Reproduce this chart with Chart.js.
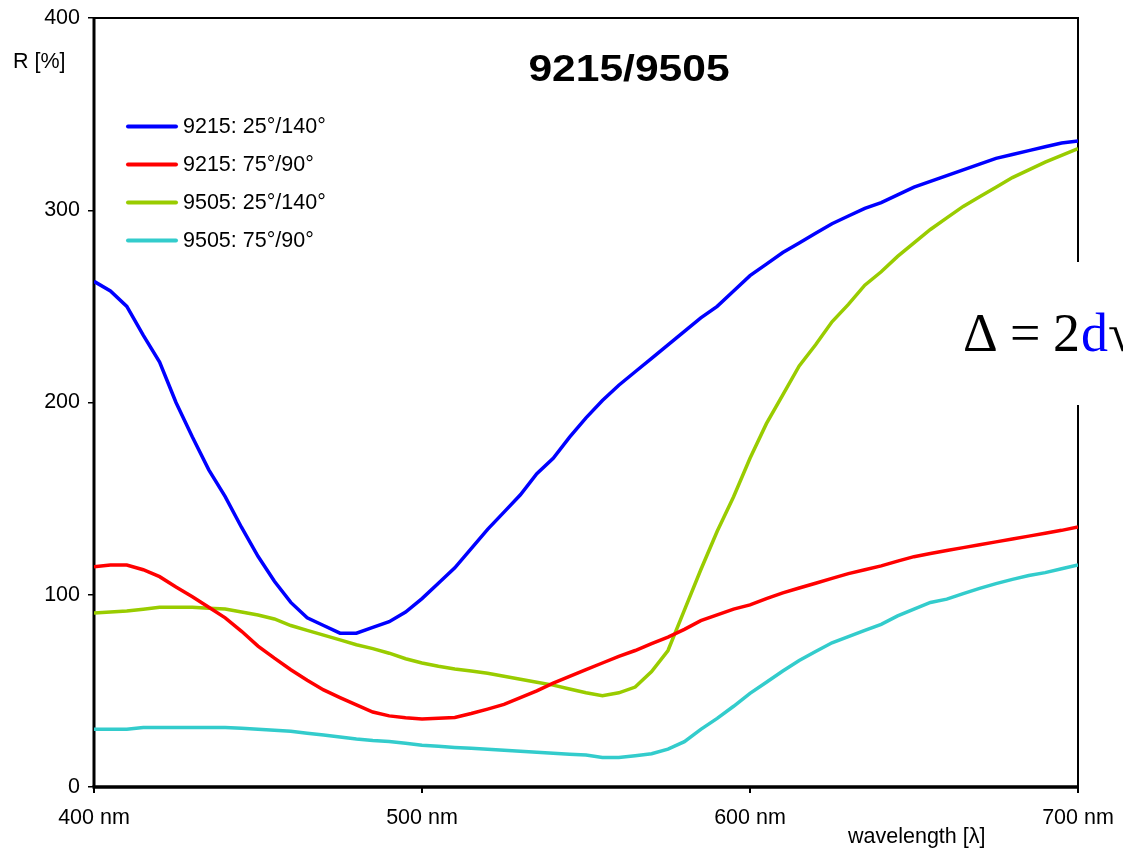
<!DOCTYPE html>
<html>
<head>
<meta charset="utf-8">
<script src="https://cdn.jsdelivr.net/npm/chart.js@4.4.1/dist/chart.umd.min.js"></script>
<style>
  html, body { margin: 0; padding: 0; background: #fff; }
  #chart { display: block; }
</style>
</head>
<body>
<canvas id="chart" width="1123" height="849"></canvas>
<script>
// wavelength grid (nm)
const wavelengths = [
    400, 405, 410, 415, 420, 425, 430, 435, 440, 445,
    450, 455, 460, 465, 470, 475, 480, 485, 490, 495,
    500, 505, 510, 515, 520, 525, 530, 535, 540, 545,
    550, 555, 560, 565, 570, 575, 580, 585, 590, 595,
    600, 605, 610, 615, 620, 625, 630, 635, 640, 645,
    650, 655, 660, 665, 670, 675, 680, 685, 690, 695,
    700
];

// reflectance R [%]
const r9215_25_140 = [
    263, 258, 250, 235, 221, 200, 182, 165, 151, 135,
    120, 107, 96, 88, 84, 80, 80, 83, 86, 91,
    98, 106, 114, 124, 134, 143, 152, 163, 171, 182,
    192, 201, 209, 216, 223, 230, 237, 244, 250, 258,
    266, 272, 278, 283, 288, 293, 297, 301, 304, 308,
    312, 315, 318, 321, 324, 327, 329, 331, 333, 335,
    336
];
const r9215_75_90 = [
    114.6, 115.5, 115.5, 113, 109.4, 104, 99, 93.5, 88, 81,
    73.3, 67, 61, 55.5, 50.5, 46.5, 42.7, 39, 37, 36,
    35.4, 35.8, 36.2, 38.2, 40.5, 43, 46.5, 50, 54, 57.5,
    61, 64.5, 68, 71, 74.6, 78, 82, 86.5, 89.5, 92.5,
    94.7, 98, 101, 103.5, 106, 108.5, 111, 113, 115, 117.5,
    119.8, 121.5, 123, 124.5, 126, 127.5, 129, 130.5, 132, 133.5,
    135.2
];
const r9505_25_140 = [
    90.5, 91, 91.6, 92.5, 93.5, 93.5, 93.5, 93, 92.6, 91,
    89.5, 87.4, 84, 81.5, 79, 76.5, 74, 72, 69.6, 66.7,
    64.5, 62.8, 61.4, 60.3, 59.2, 57.6, 56, 54.5, 53, 51,
    49, 47.5, 49, 52, 60, 71, 92, 113, 133, 151,
    171, 189, 204, 219, 230, 242, 251, 261, 268, 276,
    283, 290, 296, 302, 307, 312, 317, 321, 325, 328.5,
    332
];
const r9505_75_90 = [
    30, 30, 30, 31, 31, 31, 31, 31, 31, 30.5,
    30, 29.5, 29, 28, 27, 26, 25, 24.2, 23.7, 22.7,
    21.7, 21.2, 20.6, 20.1, 19.6, 19.1, 18.6, 18.1, 17.5, 17,
    16.6, 15.4, 15.4, 16.3, 17.3, 19.7, 23.6, 30, 35.7, 42,
    48.7, 54.5, 60.3, 65.8, 70.5, 75, 78.2, 81.5, 84.6, 89,
    92.5, 96, 97.7, 100.6, 103.3, 105.8, 108, 110, 111.5, 113.5,
    115.5
];

const seriesLabels = ['9215: 25°/140°', '9215: 75°/90°', '9505: 25°/140°', '9505: 75°/90°'];
const seriesColors = ['#0000ff', '#ff0000', '#99cc00', '#33cccc'];
const seriesValues = [r9215_25_140, r9215_75_90, r9505_25_140, r9505_75_90];

const xTickValues = [400, 500, 600, 700];
const yTickValues = [0, 100, 200, 300, 400];

const FONT = '"Liberation Sans", Arial, sans-serif';
const TEXT_SIZE = 21.5;

function toPoints(values) {
    return wavelengths.map((w, i) => ({ x: w, y: values[i] }));
}

// frame, legend, title and annotation drawn on top of the scales
const decorations = {
    id: 'decorations',
    beforeDatasetsDraw(chart) {
        const { ctx, chartArea: a } = chart;
        ctx.save();
        ctx.strokeStyle = '#000';
        ctx.lineWidth = 2;
        ctx.beginPath();
        ctx.moveTo(a.left, a.top);
        ctx.lineTo(a.right, a.top);
        ctx.lineTo(a.right, a.bottom);
        ctx.stroke();
        ctx.lineWidth = 3;
        ctx.beginPath();
        ctx.moveTo(a.left, a.top);
        ctx.lineTo(a.left, a.bottom);
        ctx.stroke();
        ctx.lineWidth = 3.5;
        ctx.beginPath();
        ctx.moveTo(a.left - 1.5, a.bottom);
        ctx.lineTo(a.right + 1, a.bottom);
        ctx.stroke();
        ctx.restore();
    },
    afterDraw(chart) {
        const { ctx } = chart;
        ctx.save();

        // legend
        chart.data.datasets.forEach((ds, i) => {
            const y = 126.5 + i * 38;
            ctx.strokeStyle = ds.borderColor;
            ctx.lineWidth = 4;
            ctx.lineCap = 'round';
            ctx.beginPath();
            ctx.moveTo(128, y);
            ctx.lineTo(176, y);
            ctx.stroke();
            ctx.fillStyle = '#000';
            ctx.font = TEXT_SIZE + 'px ' + FONT;
            ctx.textAlign = 'left';
            ctx.textBaseline = 'middle';
            ctx.fillText(ds.label, 183, y + 1);
        });

        // axis captions
        ctx.fillStyle = '#000';
        ctx.font = TEXT_SIZE + 'px ' + FONT;
        ctx.textAlign = 'left';
        ctx.textBaseline = 'middle';
        ctx.fillText('R [%]', 13, 62);
        ctx.fillText('wavelength [λ]', 848, 837);

        // title
        ctx.save();
        ctx.translate(629, 71);
        ctx.scale(1.15, 1);
        ctx.font = 'bold 37px ' + FONT;
        ctx.textAlign = 'center';
        ctx.textBaseline = 'middle';
        ctx.fillText('9215/9505', 0, 0);
        ctx.restore();

        // formula box over the right frame
        ctx.fillStyle = '#fff';
        ctx.fillRect(952, 262, 171, 143);
        ctx.font = '54px "Liberation Serif", "Times New Roman", serif';
        ctx.textBaseline = 'alphabetic';
        ctx.textAlign = 'left';
        ctx.fillStyle = '#000';
        ctx.fillText('Δ', 963, 351);
        ctx.fillText('=', 1010, 351);
        ctx.fillText('2', 1053, 351);
        ctx.fillStyle = '#0000ff';
        ctx.fillText('d', 1081, 351);
        ctx.fillStyle = '#000';
        ctx.fillText('√', 1108, 351);
        ctx.restore();
    }
};

const ctx = document.getElementById('chart').getContext('2d');
const chart = new Chart(ctx, {
    type: 'line',
    data: {
        datasets: seriesValues.map((values, i) => ({
            label: seriesLabels[i],
            data: toPoints(values),
            borderColor: seriesColors[i],
            backgroundColor: seriesColors[i],
            borderWidth: 3.5,
            pointRadius: 0,
            tension: 0,
            fill: false,
        })),
    },
    options: {
        responsive: false,
        devicePixelRatio: 1,
        animation: false,
        layout: { padding: { top: 18, right: 45, left: 0, bottom: 0 } },
        plugins: {
            legend: { display: false },
            tooltip: { enabled: false },
            title: { display: false },
        },
        scales: {
            x: {
                type: 'linear',
                min: 400,
                max: 700,
                afterBuildTicks: (scale) => {
                    scale.ticks = xTickValues.map(v => ({ value: v }));
                },
                afterFit: (scale) => {
                    scale.height = 62;
                    scale.paddingLeft = 0;
                    scale.paddingRight = 0;
                },
                border: { display: false },
                grid: {
                    drawOnChartArea: false,
                    drawTicks: true,
                    tickLength: 6,
                    color: '#000',
                    lineWidth: 2,
                },
                ticks: {
                    padding: 12,
                    maxRotation: 0,
                    autoSkip: false,
                    color: '#000',
                    font: { family: FONT, size: TEXT_SIZE },
                    callback: (v) => v + ' nm',
                },
            },
            y: {
                min: 0,
                max: 400,
                afterBuildTicks: (scale) => {
                    scale.ticks = yTickValues.map(v => ({ value: v }));
                },
                afterFit: (scale) => {
                    scale.width = 94;
                    scale.paddingTop = 0;
                    scale.paddingBottom = 0;
                },
                border: { display: false },
                grid: {
                    drawOnChartArea: false,
                    drawTicks: true,
                    tickLength: 6,
                    color: '#000',
                    lineWidth: 1.5,
                },
                ticks: {
                    padding: 8,
                    color: '#000',
                    font: { family: FONT, size: TEXT_SIZE },
                },
            },
        },
    },
    plugins: [decorations],
});
</script>
</body>
</html>
